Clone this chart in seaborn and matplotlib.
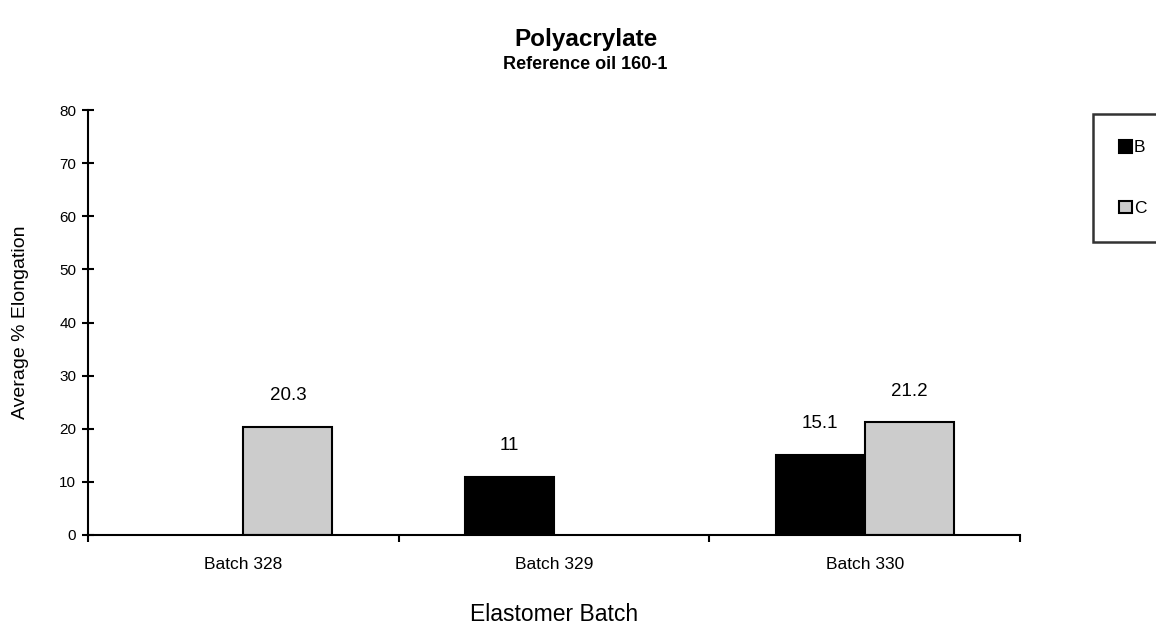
import pandas as pd
import matplotlib.pyplot as plt
import seaborn as sns
from matplotlib.patches import Patch

batches = ['Batch 328', 'Batch 329', 'Batch 330']
series_b = [None, 11, 15.1]
series_c = [20.3, None, 21.2]
series_names = ['B', 'C']
colors = {'B': '#000000', 'C': '#CCCCCC'}
y_ticks = [0, 10, 20, 30, 40, 50, 60, 70, 80]

rows = []
for name, vals in zip(series_names, [series_b, series_c]):
    for b, v in zip(batches, vals):
        if v is not None:
            rows.append({'batch': b, 'series': name, 'value': v})
df = pd.DataFrame(rows)

sns.set_style('white')
plt.rcParams['font.family'] = ['Liberation Sans', 'DejaVu Sans']
plt.rcParams['text.color'] = 'black'
plt.rcParams['axes.labelcolor'] = 'black'
plt.rcParams['xtick.color'] = 'black'
plt.rcParams['ytick.color'] = 'black'

fig = plt.figure(figsize=(11.56, 6.28), dpi=100)
ax = fig.add_axes([0.0761, 0.1481, 0.8063, 0.6767])

sns.barplot(data=df, x='batch', y='value', hue='series', order=batches,
            hue_order=series_names, palette=colors, width=0.574, dodge=True,
            edgecolor='black', linewidth=1.5, ax=ax, legend=False)

# value labels above bars
for p in ax.patches:
    h = p.get_height()
    if h > 0:
        ax.text(p.get_x() + p.get_width() / 2, h + 4.3, f'{h:g}',
                ha='center', va='bottom', fontsize=13.5)

ax.set_xlim(-0.5, 2.5)
ax.set_ylim(0, 80)
ax.set_yticks(y_ticks)
ax.set_yticklabels([str(t) for t in y_ticks], fontsize=11)

# category ticks sit between the batches
ax.set_xticks([-0.5, 0.5, 1.5, 2.5], minor=False)
ax.set_xticklabels([])
ax.set_xticks([0, 1, 2], minor=True)
ax.set_xticklabels(batches, minor=True, fontsize=12.5)
ax.tick_params(axis='x', which='minor', bottom=False, length=0, pad=16)
ax.tick_params(axis='x', which='major', bottom=True, direction='out',
               length=5, width=1.5)
ax.tick_params(axis='y', left=True, direction='inout', length=9, width=1.5,
               pad=4)

for s in ['top', 'right']:
    ax.spines[s].set_visible(False)
for s in ['left', 'bottom']:
    ax.spines[s].set_linewidth(1.5)
    ax.spines[s].set_color('black')

ax.set_xlabel('Elastomer Batch', fontsize=16.5, labelpad=22)
ax.set_ylabel('Average % Elongation', fontsize=14, labelpad=22)

fig.text(0.5066, 0.937, 'Polyacrylate', ha='center', va='center',
         fontsize=17.5, fontweight='bold')
fig.text(0.5066, 0.897, 'Reference oil 160-1', ha='center', va='center',
         fontsize=13, fontweight='bold')

handles = [Patch(facecolor=colors[n], edgecolor='black', linewidth=1.5, label=n)
           for n in series_names]
leg = fig.legend(handles=handles, loc='upper left',
                 bbox_to_anchor=(1093 / 1156, 1 - 114 / 628), frameon=True,
                 fontsize=12.5, handlelength=0.75, handleheight=0.75,
                 handletextpad=0.1, labelspacing=2.6, borderpad=1.5,
                 fancybox=False, borderaxespad=0)
leg.get_frame().set_edgecolor('black')
leg.get_frame().set_linewidth(1.8)

fig.savefig('out.png', dpi=100)
